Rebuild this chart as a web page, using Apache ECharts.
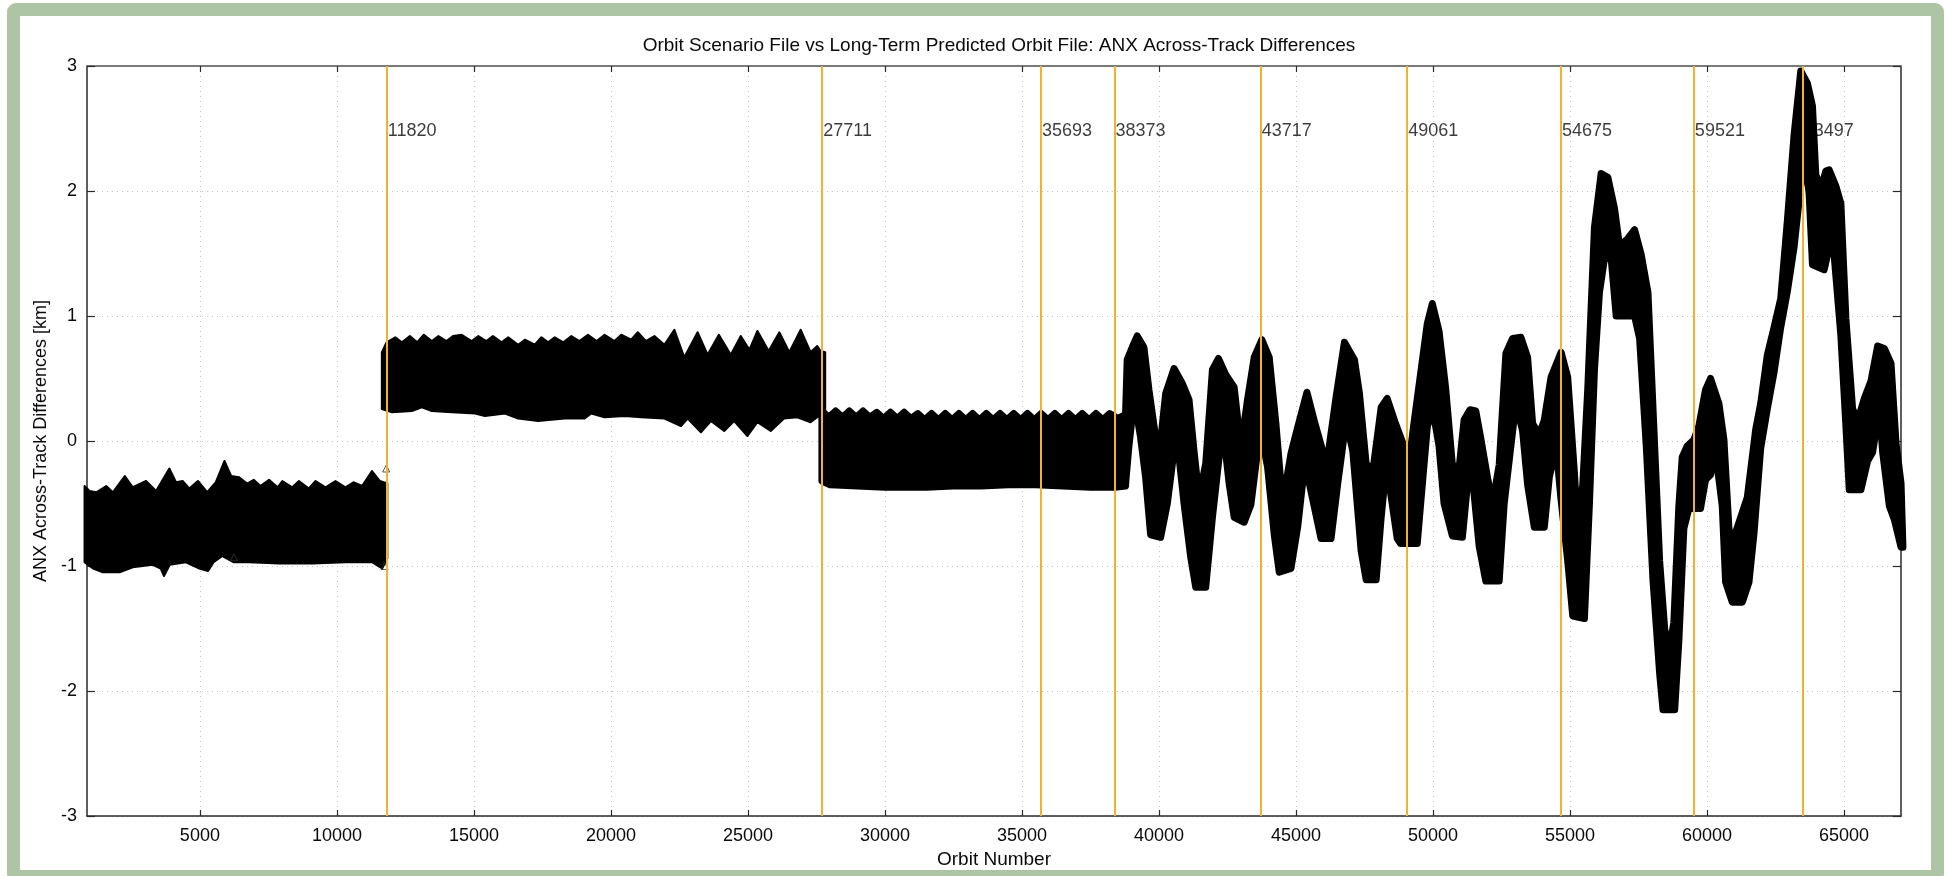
<!DOCTYPE html>
<html><head><meta charset="utf-8">
<script src="https://cdn.jsdelivr.net/npm/echarts@6/dist/echarts.min.js"></script>
<style>
html,body{margin:0;padding:0;background:#fff;width:1948px;height:876px;overflow:hidden;}
#frame{position:absolute;left:7px;top:3px;width:1937px;height:880px;box-sizing:border-box;border:13px solid #adc5a5;border-radius:9px;background:#fff;}
#chart{position:absolute;left:0;top:0;width:1948px;height:876px;}
</style></head><body><div id="frame"></div><div id="chart"></div>
<script>
// ---- data ----
const chartTitle = 'Orbit Scenario File vs Long-Term Predicted Orbit File: ANX Across-Track Differences';
const xName = 'Orbit Number';
const yName = 'ANX Across-Track Differences [km]';
const xTickValues = [5000,10000,15000,20000,25000,30000,35000,40000,45000,50000,55000,60000,65000];
const eventOrbits = [11820,27711,35693,38373,43717,49061,54675,59521,63497];

// band 1 (orbits ~800-11820): upper and lower envelopes [orbit, km]
const seg1Upper = [[790,-0.36],[975,-0.40],[1217,-0.41],[1581,-0.36],[1823,-0.41],[2260,-0.28],[2551,-0.37],[3036,-0.32],[3400,-0.40],[3885,-0.22],[4127,-0.33],[4370,-0.32],[4612,-0.38],[4927,-0.32],[5267,-0.41],[5582,-0.33],[5897,-0.16],[6140,-0.28],[6431,-0.29],[6722,-0.34],[6964,-0.31],[7207,-0.36],[7522,-0.31],[7838,-0.37],[8007,-0.32],[8371,-0.37],[8613,-0.32],[8977,-0.38],[9220,-0.32],[9584,-0.37],[9947,-0.32],[10311,-0.37],[10602,-0.33],[10917,-0.36],[11281,-0.24],[11572,-0.32],[11840,-0.34]];
const seg1Lower = [[790,-0.97],[1100,-1.02],[1460,-1.05],[2070,-1.05],[2550,-1.01],[3280,-0.99],[3570,-1.02],[3690,-1.08],[3900,-0.99],[4490,-0.97],[4980,-1.02],[5300,-1.04],[5500,-0.97],[5820,-0.92],[6240,-0.97],[6800,-0.97],[7900,-0.98],[9100,-0.98],[10300,-0.97],[11280,-0.97],[11650,-1.02],[11840,-0.94]];

// band 2 (orbits 11820-27711)
const seg2Upper = [[11640,0.71],[11815,0.79],[12130,0.83],[12372,0.79],[12663,0.84],[12930,0.79],[13172,0.85],[13464,0.80],[13706,0.84],[13997,0.80],[14239,0.84],[14554,0.85],[14918,0.80],[15161,0.84],[15452,0.80],[15694,0.84],[16010,0.79],[16252,0.83],[16616,0.77],[16858,0.81],[17222,0.77],[17464,0.83],[17707,0.79],[17949,0.83],[18264,0.79],[18556,0.84],[18847,0.80],[19162,0.85],[19477,0.80],[19768,0.85],[20132,0.80],[20375,0.85],[20738,0.81],[20981,0.87],[21272,0.80],[21587,0.84],[21951,0.77],[22315,0.89],[22678,0.67],[23163,0.87],[23527,0.69],[23939,0.85],[24375,0.69],[24739,0.84],[25055,0.73],[25346,0.88],[25758,0.72],[26146,0.87],[26510,0.71],[26923,0.89],[27287,0.71],[27528,0.76],[27650,0.72],[27820,0.71]];
const seg2Lower = [[11640,0.255],[12008,0.23],[12736,0.24],[13100,0.27],[13464,0.24],[14191,0.23],[15040,0.22],[15404,0.20],[16131,0.22],[16616,0.18],[17343,0.16],[18313,0.18],[19041,0.18],[19283,0.22],[19768,0.19],[20496,0.20],[21102,0.19],[21951,0.18],[22557,0.12],[22800,0.18],[23285,0.07],[23649,0.16],[24133,0.08],[24497,0.16],[24982,0.04],[25346,0.15],[25831,0.08],[26316,0.18],[26801,0.19],[27286,0.15],[27528,0.19],[27820,0.22]];

// band 3 (orbits 27711-38373 flat part, then the oscillating part to the end)
const seg3Upper = [[27700,0.24],[27950,0.19],[28200,0.24],[28450,0.19],[28700,0.24],[28950,0.19],[29200,0.24],[29450,0.19],[29700,0.23],[29950,0.18],[30200,0.23],[30450,0.18],[30700,0.23],[30950,0.18],[31200,0.22],[31450,0.17],[31700,0.22],[31950,0.17],[32200,0.22],[32450,0.17],[32700,0.22],[32950,0.17],[33200,0.22],[33450,0.17],[33700,0.22],[33950,0.17],[34200,0.22],[34450,0.17],[34700,0.22],[34950,0.17],[35200,0.22],[35450,0.17],[35700,0.22],[35950,0.17],[36200,0.22],[36450,0.17],[36700,0.22],[36950,0.17],[37200,0.22],[37450,0.17],[37700,0.22],[37950,0.17],[38200,0.22],[38500,0.18],[38780,0.21],
  [38840,0.65],[39024,0.75],[39207,0.84],[39451,0.75],[39634,0.41],[39878,0.03],[40037,-0.05],[40244,0.38],[40549,0.58],[40854,0.46],[41098,0.33],[41280,-0.08],[41463,-0.45],[41707,-0.18],[41951,0.57],[42171,0.66],[42439,0.53],[42744,0.43],[42988,-0.05],[43232,0.33],[43476,0.67],[43756,0.81],[44024,0.67],[44268,0.14],[44512,-0.50],[44817,-0.10],[45061,0.11],[45402,0.39],[45671,0.16],[45976,-0.08],[46159,-0.13],[46463,0.35],[46768,0.79],[47134,0.65],[47317,0.38],[47561,-0.18],[47805,-0.24],[48110,0.27],[48329,0.34],[48634,0.14],[48939,-0.04],[49061,-0.29],
  [49305,0.14],[49549,0.54],[49793,0.94],[49976,1.10],[50220,0.88],[50464,0.42],[50708,-0.19],[50952,-0.22],[51135,0.17],[51350,0.25],[51562,0.24],[51745,0.02],[51989,-0.29],[52172,-0.50],[52416,-0.19],[52660,0.70],[52904,0.82],[53209,0.83],[53453,0.67],[53636,0.14],[53880,0.05],[54063,0.17],[54307,0.51],[54675,0.71],[54917,0.51],[55161,-0.25],[55283,-0.71],[55466,-0.35],[55649,0.42],[55893,1.71],[56137,2.14],[56381,2.11],[56625,1.86],[56808,1.56],[57113,1.62],[57357,1.69],[57601,1.49],[57845,1.19],[58028,0.27],[58272,-0.96],[58455,-1.50],[58600,-1.70],[58790,-1.45],[58973,-0.52],[59095,-0.13],[59278,-0.04],[59521,0.01],[59704,0.12],[59947,0.41],[60131,0.50],[60435,0.30],[60618,0.01],[60801,-0.70],[60923,-0.81],[61167,-0.65],[61471,-0.45],[61776,0.09],[61959,0.30],[62203,0.69],[62447,0.91],[62691,1.14],[62935,1.77],[63178,2.45],[63422,2.96],[63666,2.86],[63849,2.68],[63971,2.13],[64154,2.02],[64337,2.16],[64459,2.17],[64703,2.04],[64886,1.90],[65069,0.98],[65313,0.26],[65496,0.16],[65740,0.34],[65984,0.48],[66228,0.76],[66472,0.74],[66716,0.62],[66899,-0.02],[67082,-0.34],[67150,-0.84]];
const seg3Lower = [[27700,-0.32],[28000,-0.35],[29000,-0.36],[30000,-0.37],[31500,-0.37],[32500,-0.36],[33500,-0.36],[34500,-0.35],[35500,-0.35],[36500,-0.36],[37500,-0.37],[38400,-0.37],[38780,-0.36],
  [38800,-0.30],[38900,-0.05],[39000,0.15],[39146,0.27],[39329,0.03],[39512,-0.29],[39695,-0.75],[40061,-0.77],[40305,-0.50],[40549,-0.08],[40695,-0.05],[40915,-0.50],[41159,-0.93],[41341,-1.17],[41707,-1.17],[41951,-0.61],[42195,-0.13],[42378,0.02],[42561,-0.34],[42744,-0.61],[43110,-0.65],[43354,-0.51],[43598,-0.08],[43781,0.00],[43964,-0.21],[44207,-0.75],[44390,-1.05],[44817,-1.02],[45061,-0.69],[45305,-0.21],[45488,-0.34],[45915,-0.78],[46280,-0.78],[46524,-0.34],[46829,0.16],[47073,-0.08],[47378,-0.88],[47561,-1.11],[47927,-1.11],[48110,-0.61],[48250,-0.30],[48390,-0.32],[48695,-0.78],[48817,-0.82],[49427,-0.82],[49610,-0.35],[49793,0.11],[49976,0.27],[50220,-0.04],[50403,-0.50],[50708,-0.76],[51074,-0.77],[51257,-0.35],[51440,-0.29],[51684,-0.84],[51928,-1.12],[52416,-1.12],[52599,-0.50],[52843,-0.04],[53026,0.30],[53270,0.08],[53453,-0.35],[53697,-0.69],[54063,-0.69],[54246,-0.29],[54490,-0.04],[54675,-0.47],[54917,-0.96],[55100,-1.40],[55527,-1.42],[55710,-0.50],[55893,0.57],[56076,1.19],[56259,1.46],[56503,1.46],[56686,1.00],[57113,1.00],[57357,1.00],[57540,0.82],[57784,-0.04],[58028,-1.11],[58272,-1.86],[58394,-2.15],[58821,-2.15],[58973,-1.60],[59156,-0.70],[59339,-0.54],[59765,-0.54],[59947,-0.31],[60131,-0.27],[60313,-0.09],[60557,-0.52],[60679,-1.13],[60923,-1.29],[61289,-1.29],[61532,-1.13],[61715,-0.74],[61959,-0.06],[62203,0.26],[62447,0.55],[62691,0.91],[62935,1.20],[63178,1.55],[63422,2.05],[63544,2.30],[63727,1.98],[63849,1.41],[64276,1.37],[64459,1.55],[64642,1.48],[64886,0.84],[65069,0.12],[65191,-0.39],[65618,-0.39],[65862,-0.16],[66045,-0.09],[66289,0.26],[66411,-0.09],[66655,-0.52],[66838,-0.63],[67082,-0.85],[67150,-0.85]];

// isolated open-triangle points
const outlierPoints = [[11800,-0.22],[6240,-0.93],[11740,-1.0]];

// ---- chart ----
const bands = [
  {upper: seg1Upper, lower: seg1Lower, edge: 2},
  {upper: seg2Upper, lower: seg2Lower, edge: 2},
  {upper: seg3Upper, lower: seg3Lower, edge: 7}
];
const FONT = '"Liberation Sans", Arial, Helvetica, sans-serif';
const TXT = '#0a0a0a';
const gridLine = {show: true, lineStyle: {color: '#c4c4c4', width: 1, type: [1, 4]}};

const chart = echarts.init(document.getElementById('chart'), null, {renderer: 'canvas'});
chart.setOption({
  backgroundColor: 'transparent',
  animation: false,
  textStyle: {fontFamily: FONT},
  title: {
    text: chartTitle, left: 994, top: 31, textAlign: 'center',
    textStyle: {fontFamily: FONT, fontSize: 19, fontWeight: 'normal', color: TXT}
  },
  grid: {left: 87, right: 47, top: 66, bottom: 60, containLabel: false},
  xAxis: [{
    type: 'value', min: 880, max: 67080, position: 'bottom',
    name: xName, nameLocation: 'middle', nameGap: 34,
    nameTextStyle: {fontFamily: FONT, fontSize: 19, color: TXT},
    axisLine: {show: true, onZero: false, lineStyle: {color: '#2a2a2a', width: 1.5}},
    axisTick: {show: true, inside: true, length: 6, customValues: xTickValues, lineStyle: {color: '#2a2a2a', width: 1.2}},
    axisLabel: {show: true, customValues: xTickValues, formatter: v => String(v), fontFamily: FONT, fontSize: 18, color: TXT, margin: 11},
    splitLine: gridLine
  }, {
    type: 'value', min: 880, max: 67080, position: 'top',
    axisLine: {show: true, onZero: false, lineStyle: {color: '#7a7a7a', width: 2}},
    axisTick: {show: true, inside: true, length: 6, customValues: xTickValues, lineStyle: {color: '#2a2a2a', width: 1.2}},
    axisLabel: {show: false},
    splitLine: {show: false}
  }],
  yAxis: [{
    type: 'value', min: -3, max: 3, interval: 1, position: 'left',
    name: yName, nameLocation: 'middle', nameGap: 37, nameRotate: 90,
    nameTextStyle: {fontFamily: FONT, fontSize: 18, color: TXT},
    axisLine: {show: true, onZero: false, lineStyle: {color: '#2a2a2a', width: 1.5}},
    axisTick: {show: true, inside: true, length: 8, lineStyle: {color: '#2a2a2a', width: 1.2}},
    axisLabel: {show: true, fontFamily: FONT, fontSize: 18, color: TXT, margin: 10},
    splitLine: gridLine
  }, {
    type: 'value', min: -3, max: 3, interval: 1, position: 'right',
    axisLine: {show: true, onZero: false, lineStyle: {color: '#2a2a2a', width: 1.5}},
    axisTick: {show: true, inside: true, length: 8, lineStyle: {color: '#2a2a2a', width: 1.2}},
    axisLabel: {show: false},
    splitLine: {show: false}
  }],
  series: [
    { // event labels (under the data)
      type: 'scatter', z: 1, silent: true,
      xAxisIndex: 0, yAxisIndex: 0,
      symbolSize: 0,
      data: eventOrbits.map(v => [v, 2.48]),
      label: {show: true, position: 'right', distance: 1, formatter: p => String(p.value[0]),
        fontFamily: FONT, fontSize: 18, color: TXT}
    },
    { // data band
      type: 'custom', z: 2, silent: true,
      xAxisIndex: 0, yAxisIndex: 0,
      data: bands.map(b => b.upper[0]),
      renderItem: function (params, api) {
        const b = bands[params.dataIndex];
        const pts = b.upper.map(p => api.coord(p)).concat(b.lower.slice().reverse().map(p => api.coord(p)));
        return {type: 'polygon', shape: {points: pts}, style: {fill: '#000', stroke: '#000', lineWidth: b.edge, lineJoin: 'round'}};
      }
    },
    { // isolated triangles
      type: 'scatter', z: 2, silent: true,
      xAxisIndex: 0, yAxisIndex: 0,
      symbol: 'triangle', symbolSize: 7,
      itemStyle: {color: 'rgba(255,255,255,0)', borderColor: '#333', borderWidth: 1},
      data: outlierPoints
    },
    { // event lines
      type: 'line', z: 3, silent: true,
      xAxisIndex: 0, yAxisIndex: 0,
      data: [],
      markLine: {
        symbol: 'none', silent: true, animation: false,
        label: {show: false},
        lineStyle: {color: '#f2b134', width: 2, type: 'solid'},
        data: eventOrbits.map(v => ({xAxis: v}))
      }
    }
  ]
});
</script></body></html>
